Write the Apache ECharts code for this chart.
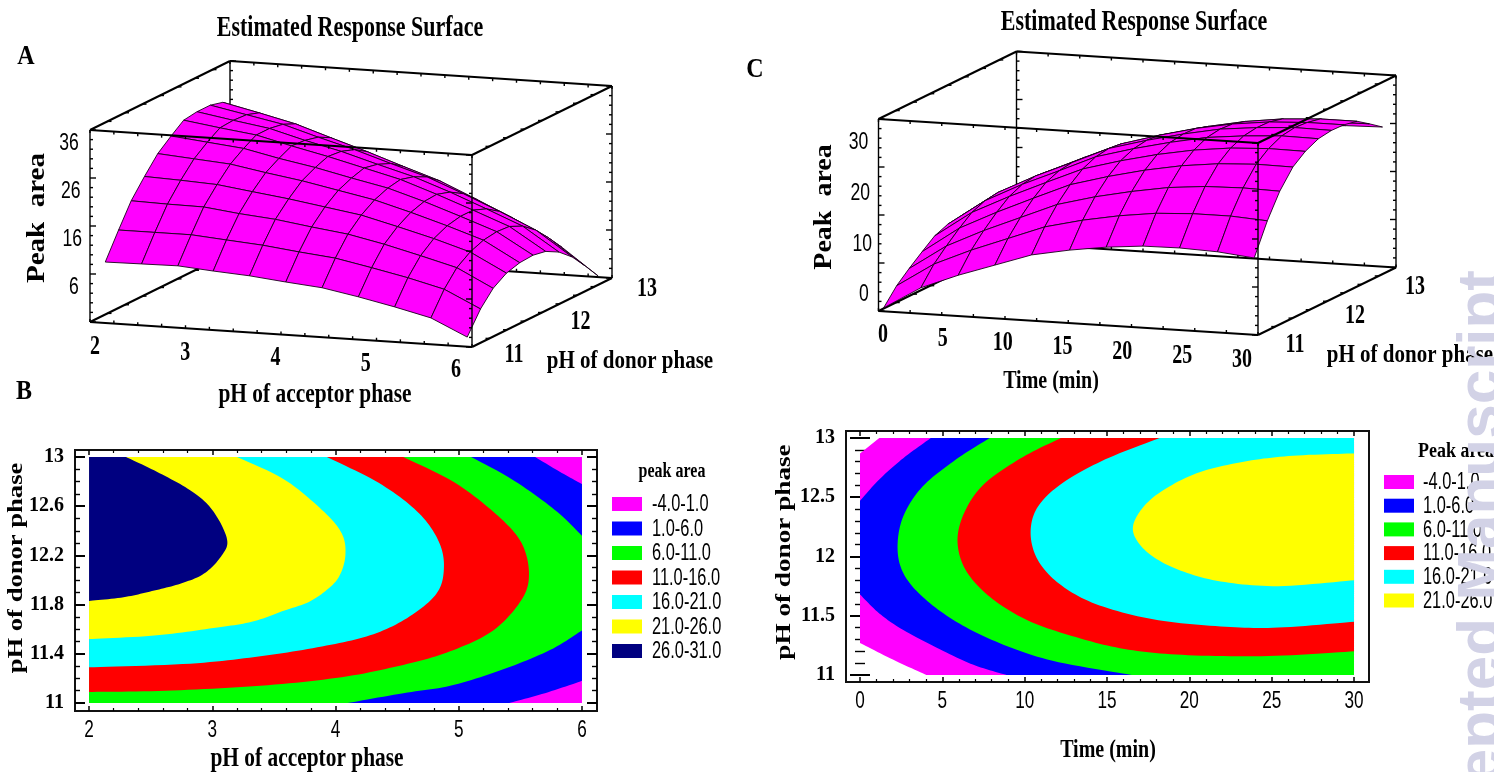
<!DOCTYPE html>
<html><head><meta charset="utf-8">
<style>html,body{margin:0;padding:0;background:#fff}#c{width:1494px;height:772px}</style>
<script src="https://cdn.jsdelivr.net/npm/echarts@6/dist/echarts.min.js"></script></head>
<body><div id="c"></div>
<script>
const bandNames=['-4.0-1.0','1.0-6.0','6.0-11.0','11.0-16.0','16.0-21.0','21.0-26.0','26.0-31.0'];
const bandColors=['#ff00ff','#0000ff','#00ff00','#ff0000','#00ffff','#ffff00','#000080'];

// Panel B contour regions: area at or above each level, [pH acceptor, pH donor]
const bLow=[[2,13],[6,13],[6,11],[2,11]];
const bL1=[[2,13],[5.62,13],[5.82,12.88],[6,12.78],[6,11.18],[5.7,11.08],[5.41,11],[2,11]];
const bL6=[[2,13],[5.1,13],[5.43,12.82],[5.78,12.57],[6,12.36],[6,11.59],[5.74,11.43],[5.35,11.27],[4.93,11.14],[4.55,11.08],[4.1,11],[2,11]];
const bL11=[[2,13],[4.55,13],[4.97,12.79],[5.32,12.52],[5.51,12.3],[5.57,12.05],[5.51,11.84],[5.28,11.59],[4.93,11.42],[4.55,11.31],[4.05,11.21],[3.39,11.14],[2.62,11.1],[2,11.09]];
const bL16=[[2,13],[3.93,13],[4.35,12.79],[4.66,12.56],[4.83,12.33],[4.88,12.11],[4.82,11.89],[4.58,11.69],[4.28,11.55],[3.89,11.46],[3.39,11.38],[2.82,11.32],[2,11.29]];
const bL21=[[2,13],[3.2,13],[3.58,12.82],[3.89,12.57],[4.05,12.38],[4.08,12.2],[4.03,12.03],[3.93,11.92],[3.78,11.82],[3.58,11.75],[3.32,11.66],[3.01,11.61],[2.55,11.55],[2,11.52]];
const bL26=[[2,13],[2.3,13],[2.55,12.88],[2.82,12.73],[3,12.57],[3.12,12.33],[3.07,12.19],[2.93,12.05],[2.74,11.97],[2.51,11.91],[2.28,11.86],[2,11.83]];

// Panel D contour regions, [time, pH donor]
const dLow=[[1.17,13],[30,13],[30,11],[4.03,11],[2,11.13],[0,11.27],[0,12.87]];
const dL1=[[4.3,13],[2.63,12.83],[1.17,12.65],[0,12.47],[0,11.68],[1.17,11.52],[2.63,11.38],[5.25,11.19],[7,11.08],[8.9,11],[30,11],[30,13]];
const dL6=[[7.88,13],[5.84,12.82],[3.8,12.59],[2.63,12.34],[2.28,12.08],[2.63,11.86],[3.8,11.66],[5.84,11.45],[8.46,11.27],[11.7,11.12],[16.5,11],[30,11],[30,13]];
const dL11=[[12.2,13],[9.9,12.84],[7.6,12.62],[6.4,12.39],[5.92,12.14],[6.4,11.89],[7.88,11.66],[10.2,11.46],[13.1,11.32],[16.05,11.22],[19.55,11.17],[24.8,11.16],[30,11.2],[30,13]];
const dL16=[[18.2,13],[14.9,12.82],[12.3,12.62],[10.8,12.42],[10.36,12.2],[10.8,11.97],[12.1,11.77],[14.3,11.6],[17.8,11.47],[21.9,11.41],[25.4,11.4],[30,11.45],[30,13]];
const dL21=[[30,12.87],[26.3,12.85],[23.3,12.8],[20.4,12.7],[18.1,12.53],[16.9,12.36],[16.6,12.2],[17.5,12.03],[19.3,11.89],[21.9,11.79],[25.4,11.75],[30,11.8]];

// Surface A: peak area at each acceptor pH (columns) and donor pH (rows)
const surfAx=[2.16,2.54,2.92,3.29,3.67,4.05,4.43,4.81,5.19,5.57,5.95];
const surfAy=[11,11.19,11.37,11.56,11.75,11.94,12.12,12.31,12.5,12.68,12.87];
const surfAz=[
[8.7,8.8,8.9,8.3,7.8,7,6.3,4.9,3.3,1.5,-2],
[14,14,14,13.4,12.8,11.9,11.1,9.6,8,6.1,2.5],
[18.8,18.6,18.5,17.6,16.9,15.8,14.8,13.2,11.3,9.3,5.5],
[22.5,22.2,21.8,20.8,19.8,18.6,17.4,15.5,13.5,11.2,7.3],
[25.9,25.3,24.7,23.4,22.2,20.7,19.2,17.1,14.8,12.3,8.1],
[28.2,27.4,26.6,25,23.6,21.9,20.3,18,15.4,12.7,8.3],
[30.2,29.1,28.1,26.3,24.6,22.7,20.8,18.2,15.4,12.5,7.8],
[30.6,29.3,28.1,26.1,24.3,22.1,20,17.3,14.3,11.2,6.3],
[30.6,29.1,27.6,25.4,23.3,20.9,18.6,15.6,12.4,9,3.9],
[29.9,28.2,26.4,24,21.6,19,16.5,13.2,9.8,6.1,0.8],
[27.5,25.7,23.8,21.3,18.8,16.1,13.4,10.1,6.5,2.8,-2.7]];

// Surface C: peak area at each time (columns) and donor pH (rows)
const surfCx=[0.4,3.35,6.3,9.2,12.1,15.1,18,20.9,23.8,26.8,29.7];
const surfCy=[11,11.19,11.37,11.56,11.74,11.93,12.12,12.3,12.49,12.67,12.86];
const surfCz=[
[-4.3,0.4,3.5,6.1,8.7,10.2,11.3,12,12.1,11.8,11],
[-1,4,7.4,10.3,13.2,15.1,16.5,17.5,17.9,17.9,17.4],
[1.3,6.5,10.2,13.4,16.6,18.7,20.3,21.6,22.3,22.5,22.3],
[3.5,8.9,12.7,16.1,19.4,21.6,23.4,24.8,25.7,26.1,26],
[5.5,10.9,14.7,18.1,21.4,23.6,25.4,26.8,27.7,28.1,28],
[6.6,12,15.9,19.2,22.6,24.8,26.6,28.1,28.9,29.4,29.3],
[7,12.4,16.3,19.6,23,25.2,27,28.5,29.3,29.8,29.7],
[6.7,12.2,16,19.4,22.7,25,26.9,28.3,29.2,29.6,29.6],
[5.5,11,14.9,18.4,21.8,24.1,26,27.5,28.5,29,29],
[3,8.6,12.6,16.1,19.6,22,23.9,25.5,26.5,27.1,27.2],
[0,5.6,9.8,13.4,17,19.5,21.5,23.2,24.3,25,25.2]];

// Tick labels
const aXLabels=[2,3,4,5,6], aYLabels=[11,12,13], aZLabels=[36,26,16,6];
const cXLabels=[0,5,10,15,20,25,30], cYLabels=[11,12,13], cZLabels=[30,20,10,0];
const bXMajor=[2,3,4,5,6], bXMinor=[2.2,2.4,2.6,2.8,3.2,3.4,3.6,3.8,4.2,4.4,4.6,4.8,5.2,5.4,5.6,5.8];
const bYMajor=[11,11.4,11.8,12.2,12.6,13], bYMinor=[11.1,11.2,11.3,11.5,11.6,11.7,11.9,12,12.1,12.3,12.4,12.5,12.7,12.8,12.9];
const dXMajor=[0,5,10,15,20,25,30], dXMinor=[1,2,3,4,6,7,8,9,11,12,13,14,16,17,18,19,21,22,23,24,26,27,28,29];
const dYMajor=[11,11.5,12,12.5,13], dYMinor=[11.1,11.2,11.3,11.4,11.6,11.7,11.8,11.9,12.1,12.2,12.3,12.4,12.6,12.7,12.8,12.9];
const aXTicks=[2,2.25,2.5,2.75,3,3.25,3.5,3.75,4,4.25,4.5,4.75,5,5.25,5.5,5.75,6];
const aYTicks=[11,11.25,11.5,11.75,12,12.25,12.5,12.75,13];
const aZTicks=[-4,-2,0,2,4,6,8,10,12,14,16,18,20,22,24,26,28,30,32,34,36];
const cXTicks=[0,2.5,5,7.5,10,12.5,15,17.5,20,22.5,25,27.5,30];
const cYTicks=[11,11.25,11.5,11.75,12,12.25,12.5,12.75,13];
const cZTicks=[-5,-3,-1,1,3,5,7,9,11,13,15,17,19,21,23,25,27,29,31,33,35];

const SERIF='"Liberation Serif","Times New Roman",serif';
const SANS='"Liberation Sans",Arial,sans-serif';

const panelA={o:[90,322],ex:[382,25],ey:[140,-69],h:192,xr:[2,6],yr:[11,13],zr:[-4,36]};
const panelC={o:[878.5,311],ex:[379.5,24],ey:[138,-67.5],h:192,xr:[0,30],yr:[11,13],zr:[-5,35]};
function project(P,x,y,z){
  const a=(x-P.xr[0])/(P.xr[1]-P.xr[0]), b=(y-P.yr[0])/(P.yr[1]-P.yr[0]), c=(z-P.zr[0])/(P.zr[1]-P.zr[0]);
  return [P.o[0]+a*P.ex[0]+b*P.ey[0], P.o[1]+a*P.ex[1]+b*P.ey[1]-c*P.h];
}
function custom(renderItem,data,z){return {type:'custom',coordinateSystem:'none',silent:true,z:z,data:data,renderItem:renderItem,animation:false};}

function surfaceSeries(P,xs,ys,zs){
  const data=[];
  for(let j=ys.length-2;j>=0;j--)for(let i=0;i<xs.length-1;i++)data.push([i,j,zs[j][i]]);
  return custom((p,api)=>{
    const i=api.value(0),j=api.value(1);
    const pts=[[i,j],[i+1,j],[i+1,j+1],[i,j+1]].map(q=>project(P,xs[q[0]],ys[q[1]],zs[q[1]][q[0]]));
    return {type:'polygon',shape:{points:pts},style:{fill:'#ff00ff',stroke:'#1a001a',lineWidth:0.9}};
  },data,3);
}
function boxSeries(P,front,z){
  const [x0,x1]=P.xr,[y0,y1]=P.yr,[z0,z1]=P.zr;
  const edges=front?[
    [x0,y0,z1,x1,y0,z1],[x1,y0,z0,x1,y0,z1],[x1,y0,z1,x1,y1,z1]
  ]:[
    [x0,y0,z0,x1,y0,z0],[x1,y0,z0,x1,y1,z0],[x0,y0,z0,x0,y1,z0],[x0,y1,z0,x1,y1,z0],
    [x0,y1,z0,x0,y1,z1],[x1,y1,z0,x1,y1,z1],[x0,y0,z0,x0,y0,z1],
    [x0,y0,z1,x0,y1,z1],[x0,y1,z1,x1,y1,z1]
  ];
  return custom((p,api)=>{
    const e=[0,1,2,3,4,5].map(k=>api.value(k));
    const a=project(P,e[0],e[1],e[2]),b=project(P,e[3],e[4],e[5]);
    return {type:'line',shape:{x1:a[0],y1:a[1],x2:b[0],y2:b[1]},style:{stroke:'#000',lineWidth:a[0]===b[0]?1.4:2}};
  },edges,z);
}
function tickSeries(P,xT,yT,zT,zMajorStep,front,z){
  const [x0,x1]=P.xr,[y0,y1]=P.yr,[z0,z1]=P.zr, d=[];
  const zEdges=front?[[x1,y0,-1]]:[[x0,y0,1],[x0,y1,1],[x1,y1,-1]];
  zEdges.forEach(e=>zT.forEach(v=>{const maj=((v-z0)%zMajorStep)===0;d.push([e[0],e[1],v,e[2]*(maj?6:3),0]);}));
  if(front){
    xT.forEach(v=>d.push([v,y0,z1,0,3]));
    yT.forEach(v=>d.push([x1,v,z1,-4,0]));
  }else{
    xT.forEach(v=>{d.push([v,y0,z0,0,-3]);d.push([v,y1,z1,0,3]);d.push([v,y1,z0,0,-3]);});
    yT.forEach(v=>{d.push([x0,v,z0,4,0]);d.push([x1,v,z0,-4,0]);d.push([x0,v,z1,4,0]);});
  }
  return custom((p,api)=>{
    const a=project(P,api.value(0),api.value(1),api.value(2));
    return {type:'line',shape:{x1:a[0],y1:a[1],x2:a[0]+api.value(3),y2:a[1]+api.value(4)},style:{stroke:'#000',lineWidth:1.4}};
  },d,z);
}
function labelSeries(P,vals,axis,off0,off1,font,sy,sx){
  const data=vals.map((v,k)=>[v,k]);
  return custom((p,api)=>{
    const v=api.value(0),t=vals.length>1?api.value(1)/(vals.length-1):0;
    let q;
    if(axis==='x')q=project(P,v,P.yr[0],P.zr[0]);
    else if(axis==='y')q=project(P,P.xr[1],v,P.zr[0]);
    else q=project(P,P.xr[0],P.yr[0],v);
    return {type:'text',x:q[0]+off0[0]+(off1[0]-off0[0])*t,y:q[1]+off0[1]+(off1[1]-off0[1])*t,scaleX:sx||1,scaleY:sy||1,
      style:{text:String(v),font:font,fill:'#000',align:'center',textAlign:'center',verticalAlign:'middle',textVerticalAlign:'middle'}};
  },data,6);
}

// Smooth outline through the read points; points on the plot's edge stay corners.
function smoothOutline(pts,isCorner){
  const n=pts.length,out=[];
  for(let k=0;k<n;k++){
    const p1=pts[k],p2=pts[(k+1)%n];
    const c1=isCorner[k],c2=isCorner[(k+1)%n];
    const p0=c1?p1:pts[(k-1+n)%n],p3=c2?p2:pts[(k+2)%n];
    if(c1&&c2){out.push(p1);continue;}
    for(let s=0;s<12;s++){
      const t=s/12,t2=t*t,t3=t2*t;
      out.push([0,1].map(d=>0.5*(2*p1[d]+(p2[d]-p0[d])*t+(2*p0[d]-5*p1[d]+4*p2[d]-p3[d])*t2+(3*p1[d]-p0[d]-3*p2[d]+p3[d])*t3)));
    }
  }
  return out;
}
function polySeries(name,color,pts,ax,xr,yr){
  const corner=pts.map(q=>q[0]===xr[0]||q[0]===xr[1]||q[1]===yr[0]||q[1]===yr[1]);
  return {type:'custom',name:name,coordinateSystem:'cartesian2d',xAxisIndex:ax.x,yAxisIndex:ax.y,silent:true,z:2,
    itemStyle:{color:color},data:pts,encode:{x:0,y:1},animation:false,
    renderItem:(p,api)=>{
      if(p.dataIndex!==0)return null;
      return {type:'polygon',shape:{points:smoothOutline(pts.map(q=>api.coord(q)),corner)},style:{fill:color}};
    }};
}
function xLabelSeries(vals,ax,yVal,dy){
  return {type:'custom',coordinateSystem:'cartesian2d',xAxisIndex:ax.x,yAxisIndex:ax.y,silent:true,z:6,clip:false,
    data:vals.map(v=>[v,yVal]),encode:{x:0,y:1},animation:false,
    renderItem:(p,api)=>{
      const q=api.coord([api.value(0),api.value(1)]);
      return {type:'text',x:q[0],y:q[1]+dy,scaleX:0.78,scaleY:1.05,
        style:{text:String(api.value(0)),font:'22px '+SANS,fill:'#000',align:'center',textAlign:'center',verticalAlign:'middle',textVerticalAlign:'middle'}};
    }};
}

const xAxes=[],yAxes=[];
function addAxes(g,xr,yr,xMaj,xMin,yMaj,yMin){
  const base={type:'value',gridIndex:g,splitLine:{show:false},axisLine:{show:false},animation:false};
  const xb=xAxes.length,yb=yAxes.length;
  const hide={show:false};
  xAxes.push(Object.assign({},base,{min:xr[0],max:xr[1],position:'bottom',axisTick:{inside:true,length:5,lineStyle:{color:'#000',width:1.5},customValues:xMaj},axisLabel:hide}));
  xAxes.push(Object.assign({},base,{min:xr[0],max:xr[1],position:'bottom',axisTick:{inside:true,length:3,lineStyle:{color:'#000',width:1.2},customValues:xMin},axisLabel:hide}));
  xAxes.push(Object.assign({},base,{min:xr[0],max:xr[1],position:'top',axisTick:{inside:true,length:5,lineStyle:{color:'#000',width:1.5},customValues:xMaj},axisLabel:hide}));
  xAxes.push(Object.assign({},base,{min:xr[0],max:xr[1],position:'top',axisTick:{inside:true,length:3,lineStyle:{color:'#000',width:1.2},customValues:xMin},axisLabel:hide}));
  yAxes.push(Object.assign({},base,{min:yr[0],max:yr[1],position:'left',axisTick:{inside:true,length:10,lineStyle:{color:'#000',width:2},customValues:yMaj},
    axisLabel:{customValues:yMaj,margin:11,color:'#000',fontSize:20,fontWeight:'bold',fontFamily:SERIF,showMinLabel:true,showMaxLabel:true,padding:[4,0,0,0]}}));
  yAxes.push(Object.assign({},base,{min:yr[0],max:yr[1],position:'left',axisTick:{inside:true,length:5,lineStyle:{color:'#000',width:1.4},customValues:yMin},axisLabel:hide}));
  yAxes.push(Object.assign({},base,{min:yr[0],max:yr[1],position:'right',axisTick:{inside:true,length:10,lineStyle:{color:'#000',width:2},customValues:yMaj},axisLabel:hide}));
  yAxes.push(Object.assign({},base,{min:yr[0],max:yr[1],position:'right',axisTick:{inside:true,length:5,lineStyle:{color:'#000',width:1.4},customValues:yMin},axisLabel:hide}));
  return {x:xb,y:yb};
}
const grids=[
  {left:75,top:450,width:522,height:261,show:true,borderColor:'#111',borderWidth:2,backgroundColor:'#fff'},
  {left:846,top:431,width:523,height:251,show:true,borderColor:'#111',borderWidth:2,backgroundColor:'#fff'}
];
const bExt=[1.886,6.122],bYExt=[10.935,13.057],dExt=[-0.85,30.91],dYExt=[10.941,13.059];
const axB=addAxes(0,bExt,bYExt,bXMajor,bXMinor,bYMajor,bYMinor);
const axD=addAxes(1,dExt,dYExt,dXMajor,dXMinor,dYMajor,dYMinor);

function txt(text,x,y,size,o){
  o=o||{};
  return {type:'text',x:x,y:y,rotation:o.rot||0,scaleX:o.sx||1,scaleY:o.sy||1,z:o.z||10,silent:true,
    style:{text:text,fill:o.fill||'#000',font:(o.weight||'bold')+' '+size+'px '+(o.fam||SERIF),
      align:o.align||'center',textAlign:o.align||'center',verticalAlign:'middle',textVerticalAlign:'middle'}};
}
const R90=Math.PI/2;
const graphics=[
  txt('Estimated Response Surface',350,29,22,{sy:1.3}),
  txt('Estimated Response Surface',1134,23,22,{sy:1.3}),
  txt('A',26,57,24,{sy:1.1}),
  txt('B',24,392,24,{sy:1.1}),
  txt('C',755,70,24,{sy:1.1}),
  txt('pH of acceptor phase',315,395,21.4,{sy:1.3}),
  txt('pH of donor phase',630,361,20,{sy:1.3,sx:1.05}),
  txt('Peak  area',38,218,25,{rot:R90,sx:1.16}),
  txt('Peak  area',825,207,25,{rot:R90,sx:1.12}),
  txt('Time (min)',1051,381,20,{sy:1.3}),
  txt('pH of donor phase',1410,355,20,{sy:1.3,sx:1.05}),
  txt('pH of donor phase',17,568,20,{rot:R90,sx:1.33}),
  txt('pH of acceptor phase',307,759,21.4,{sy:1.3}),
  txt('peak area',672,472,16,{sy:1.3}),
  txt('pH of donor phase',785,552,20,{rot:R90,sx:1.36}),
  txt('Time (min)',1108,750,20,{sy:1.3}),
  txt('Peak area',1456,451,18,{sy:1.2}),
  {type:'text',x:1452,y:270,rotation:R90,z:100,silent:true,
   style:{text:'Accepted Manuscript',fill:'#d2d2e6',font:'bold 62px "Liberation Sans",Arial,sans-serif',
     align:'right',textAlign:'right',verticalAlign:'top',textVerticalAlign:'top'}}
];
bandNames.forEach((n,k)=>graphics.push(txt(n,652,505+24.5*k,20,{weight:'normal',fam:SANS,sx:0.82,sy:1.15,align:'left'})));
bandNames.slice(0,6).forEach((n,k)=>graphics.push(txt(n,1423,483+23.7*k,20,{weight:'normal',fam:SANS,sx:0.82,sy:1.15,align:'left'})));

const serif3d='bold 20px '+SERIF, sans3d='22px '+SANS;
const bBands=[bLow,bL1,bL6,bL11,bL16,bL21,bL26];
const dBands=[dLow,dL1,dL6,dL11,dL16,dL21];
const series=[
  boxSeries(panelA,false,1),tickSeries(panelA,aXTicks,aYTicks,aZTicks,10,false,1),
  surfaceSeries(panelA,surfAx,surfAy,surfAz),
  boxSeries(panelA,true,4),tickSeries(panelA,aXTicks,aYTicks,aZTicks,10,true,4),
  labelSeries(panelA,aXLabels,'x',[5,25],[-16,23],serif3d,1.35),
  labelSeries(panelA,aYLabels,'y',[42,8],[35,11],serif3d,1.35),
  labelSeries(panelA,aZLabels,'z',[-21,14],[-16,14],sans3d,1.05,0.8),
  boxSeries(panelC,false,1),tickSeries(panelC,cXTicks,cYTicks,cZTicks,10,false,1),
  surfaceSeries(panelC,surfCx,surfCy,surfCz),
  boxSeries(panelC,true,4),tickSeries(panelC,cXTicks,cYTicks,cZTicks,10,true,4),
  labelSeries(panelC,cXLabels,'x',[4.5,24],[-16,25],serif3d,1.35),
  labelSeries(panelC,cYLabels,'y',[37,10],[19,20],serif3d,1.35),
  labelSeries(panelC,cZLabels,'z',[-20,0],[-14.5,8],sans3d,1.05,0.8),
  xLabelSeries(bXMajor,axB,bYExt[0],20),
  xLabelSeries(dXMajor,axD,dYExt[0],20)
];
const bDom=[[2,6],[11,13]],dDom=[[0,30],[11,13]];
bBands.forEach((b,k)=>series.push(polySeries(bandNames[k],bandColors[k],b,axB,bDom[0],bDom[1])));
dBands.forEach((b,k)=>series.push(polySeries(bandNames[k],bandColors[k],b,axD,dDom[0],dDom[1])));

const chart=echarts.init(document.getElementById('c'),null,{renderer:'canvas'});
const legendBase={orient:'vertical',icon:'rect',itemWidth:30,itemHeight:14,selectedMode:false,formatter:()=>' ',textStyle:{fontSize:10,lineHeight:14},padding:0};
chart.setOption({
  backgroundColor:'#fff',animation:false,tooltip:{show:false},
  grid:grids,xAxis:xAxes,yAxis:yAxes,series:series,graphic:{elements:graphics},
  legend:[
    Object.assign({},legendBase,{left:612,top:497,itemGap:10.5,data:bandNames}),
    Object.assign({},legendBase,{left:1384,top:475,itemGap:9.7,data:bandNames.slice(0,6)})
  ]
});
</script></body></html>
